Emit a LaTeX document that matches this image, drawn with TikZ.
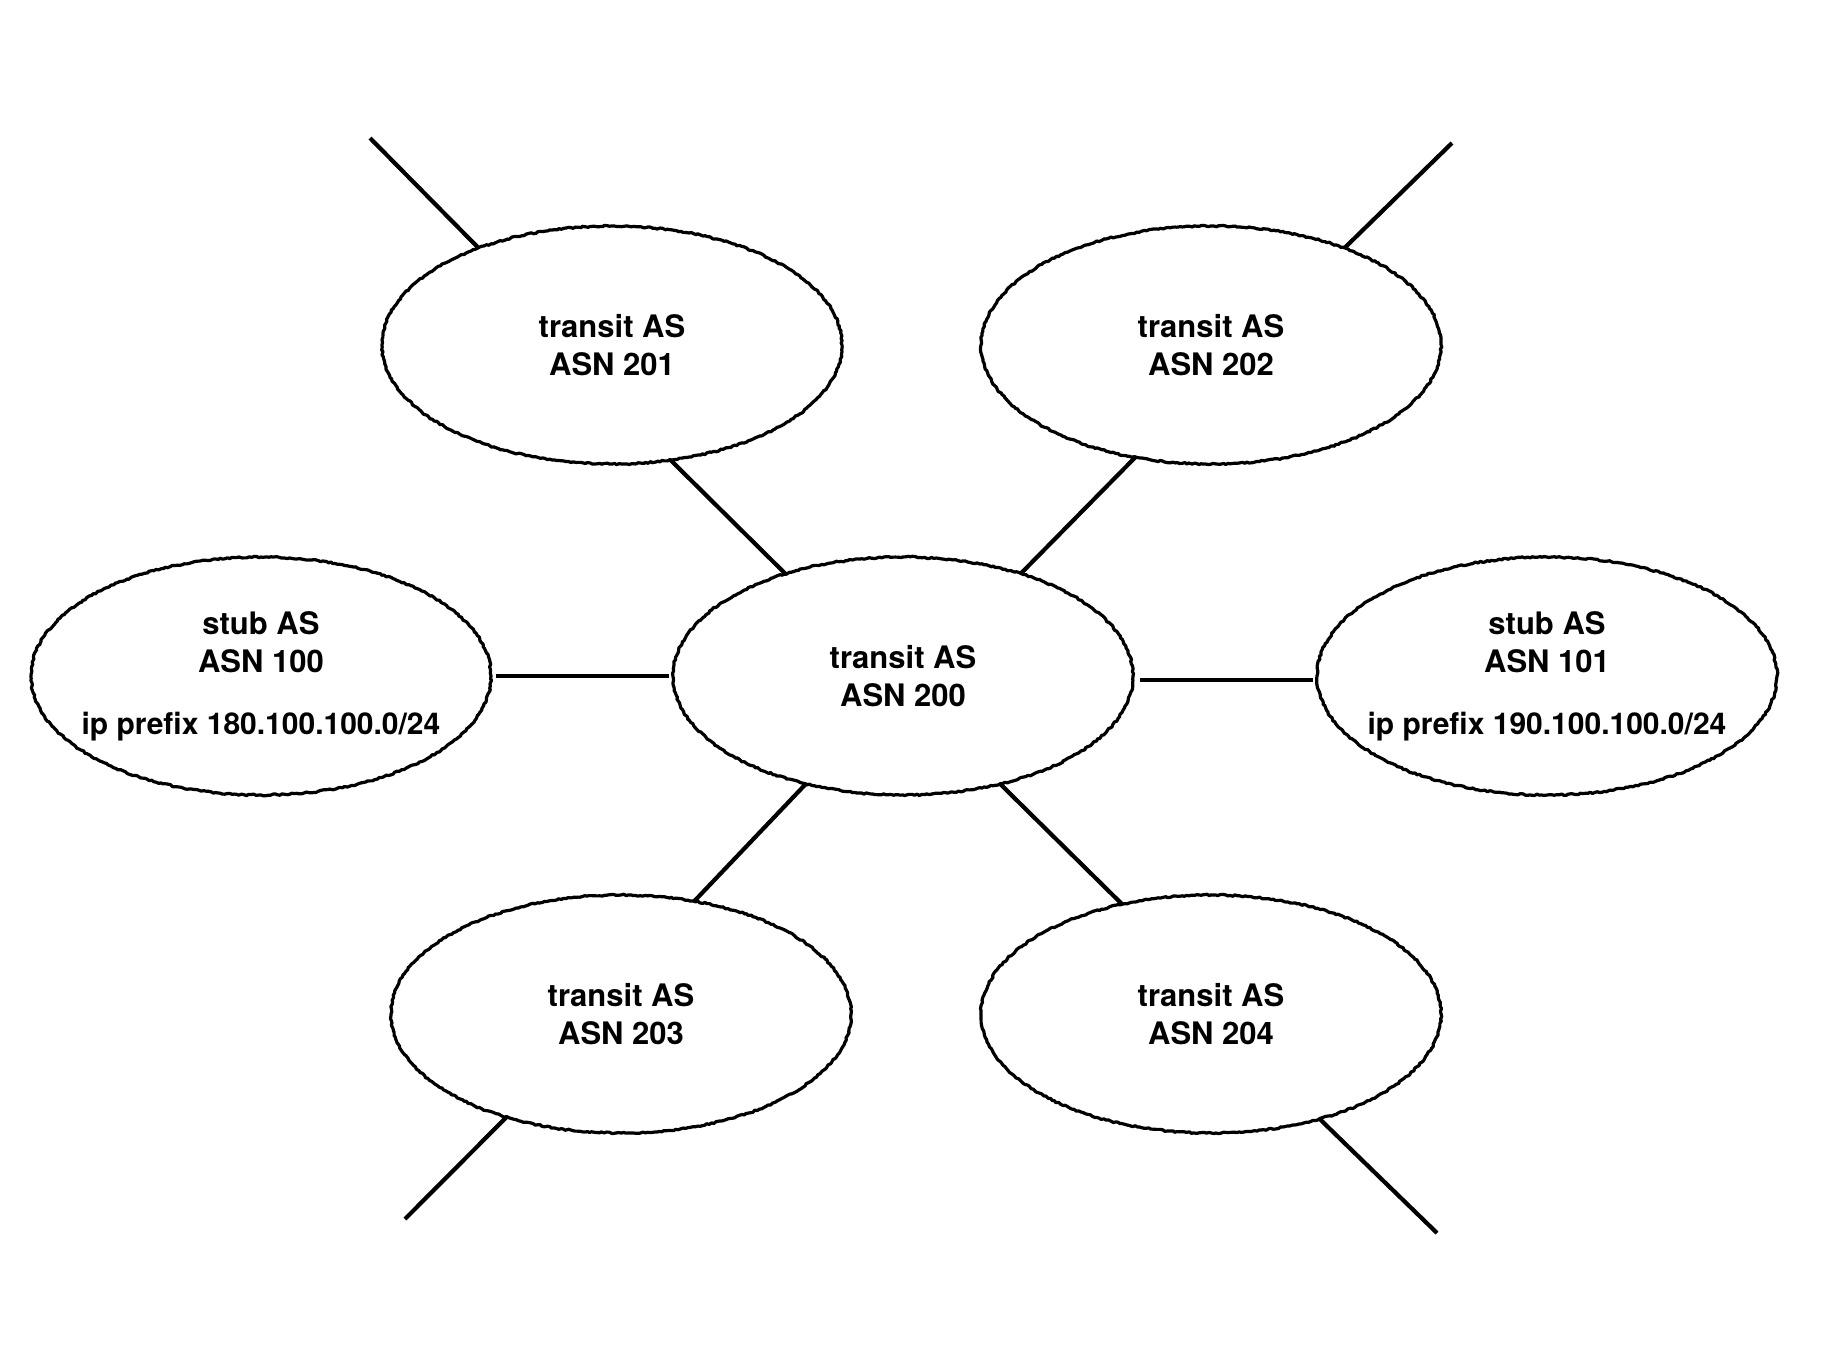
\documentclass[tikz,border=0pt]{standalone}
\usepackage{fontspec}
\setmainfont{TeX Gyre Heros}
\usetikzlibrary{shapes.geometric,decorations.pathmorphing}
\begin{document}
\begin{tikzpicture}[x=0.5pt,y=-0.5pt,
  asnode/.style={ellipse, draw, line width=1.6pt, line join=round,
    minimum width=230pt, minimum height=119pt, inner sep=0pt, outer sep=0pt,
    align=center, font=\bfseries\fontsize{15.5}{19}\selectfont,
    decorate, decoration={random steps, segment length=1.2pt, amplitude=0.4pt}},
  stubnode/.style={asnode, inner xsep=-40pt},
  link/.style={line width=2.1pt}]
\useasboundingbox (0,0) rectangle (1844,1346);
\fill[white] (0,0) rectangle (1844,1346);

% autonomous systems
\node[asnode] (e201) at (612,345)  {transit AS\\ASN 201};
\node[asnode] (e202) at (1211,345) {transit AS\\ASN 202};
\node[asnode] (e200) at (903,676)  {transit AS\\ASN 200};
\node[stubnode] (e100) at (261,676)  {stub AS\\ASN 100\\[12pt]{\fontsize{15}{19}\selectfont ip prefix 180.100.100.0/24}};
\node[stubnode] (e101) at (1547,676) {stub AS\\ASN 101\\[12pt]{\fontsize{15}{19}\selectfont ip prefix 190.100.100.0/24}};
\node[asnode] (e203) at (621,1014) {transit AS\\ASN 203};
\node[asnode] (e204) at (1211,1014) {transit AS\\ASN 204};

% open ends towards the rest of the internet
\coordinate (c201) at (370,138);
\coordinate (c202) at (1452,143);
\coordinate (c203) at (405,1219);
\coordinate (c204) at (1437,1233);

% links
\draw[link] (c201) -- (e201.144.3);
\draw[link] (c202) -- (e202.36);
\draw[link] (c203) -- (e203.222.2);
\draw[link] (c204) -- (e204.316.5);

\draw[link] (e201.297.9) -- (e200.139.1);
\draw[link] (e202.236.5) -- (e200.41);
\draw[link] (e200.228.5) -- (e203.57.7);
\draw[link] (e200.312.1) -- (e204.129.6);

\draw[link, shorten <=2.5pt, shorten >=2pt] (e100.east) -- (e200.west);
\draw[link, shorten <=3.5pt, shorten >=2pt] (e200.-1) -- (e101.181);
\end{tikzpicture}
\end{document}
